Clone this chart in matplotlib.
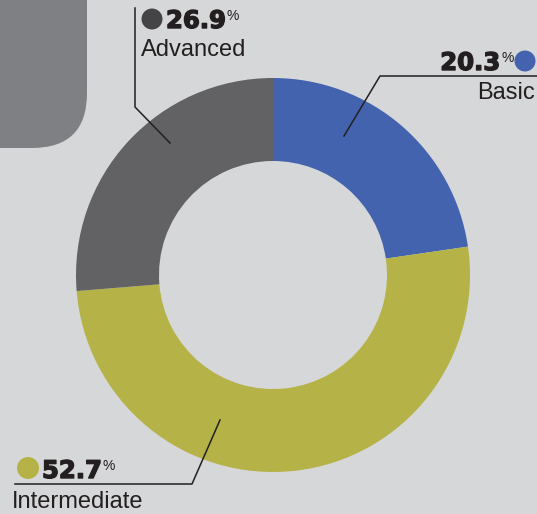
import matplotlib
matplotlib.use("Agg")
import matplotlib.pyplot as plt
import matplotlib.patheffects as pe
from matplotlib.patches import FancyBboxPatch, Circle

# data
categories = ["Basic", "Intermediate", "Advanced"]
pct_labels = ["20.3", "52.7", "26.9"]
shares = [22.7, 51.0, 26.3]          # ring sizes as drawn
colors = ["#4463ae", "#b5b348", "#626264"]
dot_colors = ["#4463ae", "#b5b348", "#444446"]

W, H = 537, 514
BG = "#d6d7d8"
INK = "#231f20"


def Y(py):
    # pixel row (top-down) -> data y (bottom-up)
    return H - py


fig = plt.figure(figsize=(W / 100, H / 100), dpi=100, facecolor=BG)
ax = fig.add_axes([0, 0, 1, 1])
ax.set_facecolor(BG)
ax.set_xlim(0, W)
ax.set_ylim(0, H)
ax.set_aspect("equal")
ax.axis("off")

# grey rounded block top-left
ax.add_patch(FancyBboxPatch((-150, Y(148)), 237, 400,
                            boxstyle="round,pad=0,rounding_size=55",
                            fc="#7f8083", ec="none", zorder=1))

cx, cy, R, r = 273, Y(275), 197, 114
ax.pie(shares, colors=colors, startangle=90, counterclock=False,
       center=(cx, cy), radius=R, frame=True,
       wedgeprops=dict(width=R - r, edgecolor="none", zorder=2))
ax.set_xlim(0, W)
ax.set_ylim(0, H)
ax.axis("off")

num_font = dict(family=["DejaVu Sans"], weight="bold", size=17.5, color=INK,
                path_effects=[pe.withStroke(linewidth=1.0, foreground=INK)])
lab_font = dict(family=["Liberation Sans", "DejaVu Sans"], size=17, color=INK)
pc_font = dict(family=["Liberation Sans", "DejaVu Sans"], size=10, color=INK)
lw = 1.1

fig.canvas.draw()
rend = fig.canvas.get_renderer()


def pct_after(num_text, top_py):
    bb = num_text.get_window_extent(rend)
    x0 = ax.transData.inverted().transform((bb.x1, 0))[0]
    ax.text(x0 + 1, Y(top_py), "%", ha="left", va="top", **pc_font)


# Advanced
ax.plot([135, 135, 170], [Y(8), Y(107), Y(143)], color=INK, lw=lw, zorder=3)
ax.add_patch(Circle((152, Y(19)), 10.5, fc=dot_colors[2], ec="none", zorder=3))
t = ax.text(166, Y(28), pct_labels[2], ha="left", va="baseline", **num_font)
pct_after(t, 9)
ax.text(141, Y(56), categories[2], ha="left", va="baseline", **lab_font)

# Basic
ax.plot([537, 380, 344], [Y(76), Y(76), Y(136)], color=INK, lw=lw, zorder=3)
ax.add_patch(Circle((525, Y(61)), 10.5, fc=dot_colors[0], ec="none", zorder=3))
ax.text(500, Y(70), pct_labels[0], ha="right", va="baseline", **num_font)
ax.text(501, Y(51), "%", ha="left", va="top", **pc_font)
ax.text(535, Y(99), categories[0], ha="right", va="baseline", **lab_font)

# Intermediate
ax.plot([15, 192, 220], [Y(484), Y(484), Y(420)], color=INK, lw=lw, zorder=3)
ax.add_patch(Circle((28, Y(468)), 11, fc=dot_colors[1], ec="none", zorder=3))
t = ax.text(42, Y(478), pct_labels[1], ha="left", va="baseline", **num_font)
pct_after(t, 459)
ax.text(12, Y(508), categories[1], ha="left", va="baseline", **lab_font)

fig.savefig("out.png", dpi=100, facecolor=BG)
